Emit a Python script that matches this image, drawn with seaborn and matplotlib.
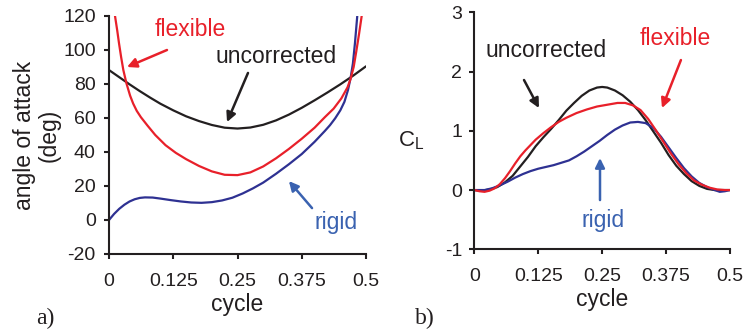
import matplotlib
matplotlib.use("Agg")
import matplotlib.pyplot as plt
import seaborn as sns
import pandas as pd

# ---------------- data ----------------
# panel a) angle of attack (deg) vs cycle
a_unc_x = [0, 0.02, 0.04, 0.06, 0.08, 0.1, 0.125, 0.15, 0.175, 0.2, 0.225, 0.25, 0.275, 0.3, 0.325,
           0.35, 0.375, 0.4, 0.425, 0.45, 0.475, 0.5]
a_unc_y = [88.2, 84.0, 79.8, 75.8, 72.0, 68.4, 64.5, 61.0, 58.2, 55.9, 54.3, 53.8, 54.4, 56.0, 58.6,
           62.0, 66.0, 70.4, 75.0, 79.8, 84.9, 90.4]

a_flex_x = [0.0117, 0.016, 0.0195, 0.0235, 0.0279, 0.034, 0.041, 0.047, 0.054, 0.062, 0.075, 0.09,
            0.11, 0.13, 0.15, 0.175, 0.2, 0.225, 0.25, 0.275, 0.3, 0.325, 0.35, 0.375, 0.4, 0.42,
            0.437, 0.452, 0.464, 0.47, 0.476, 0.481, 0.4865, 0.4916]
a_flex_y = [120, 111.5, 103.9, 96, 88.2, 80.3, 73.2, 68.5, 64.2, 60.5, 55.5, 50, 44, 39.5,
            35.8, 31.8, 28.6, 26.6, 26.4, 28, 31.5, 36.3, 41.8, 47.8, 54.3, 60.5,
            65.5, 71.5, 78, 83, 90, 99, 109.5, 120]

a_rig_x = [0, 0.01, 0.02, 0.03, 0.04, 0.05, 0.06, 0.07, 0.085, 0.1, 0.12, 0.14, 0.16, 0.18, 0.2,
           0.22, 0.24, 0.26, 0.28, 0.3, 0.325, 0.35, 0.375, 0.4, 0.42, 0.43, 0.44, 0.45, 0.458,
           0.465, 0.47, 0.4745, 0.4785, 0.483]
a_rig_y = [0, 3.6, 6.6, 9.0, 10.9, 12.2, 13.0, 13.3, 13.2, 12.6, 11.7, 10.9, 10.3, 10.1, 10.5,
           11.5, 13.1, 15.6, 18.6, 22.0, 27.2, 32.8, 38.8, 46.0, 52.4, 55.8, 59.8, 64.5, 69.5,
           76.5, 83.5, 92, 104, 120]

# panel b) lift coefficient vs cycle
b_unc_x = [0, 0.015, 0.03, 0.045, 0.06, 0.075, 0.09, 0.105, 0.12, 0.135, 0.15, 0.165, 0.18, 0.195,
           0.21, 0.225, 0.24, 0.25, 0.26, 0.275, 0.29, 0.305, 0.32, 0.335, 0.35, 0.365, 0.38,
           0.395, 0.41, 0.425, 0.44, 0.455, 0.47, 0.485, 0.5]
b_unc_y = [0, -0.01, 0.01, 0.05, 0.13, 0.24, 0.40, 0.56, 0.74, 0.89, 1.03, 1.18, 1.34, 1.47,
           1.59, 1.68, 1.73, 1.74, 1.73, 1.68, 1.60, 1.49, 1.35, 1.18, 0.99, 0.80, 0.59,
           0.41, 0.27, 0.15, 0.07, 0.02, 0.0, 0.0, 0.0]

b_flex_x = [0, 0.01, 0.02, 0.03, 0.04, 0.05, 0.06, 0.07, 0.08, 0.09, 0.1, 0.11, 0.12, 0.135, 0.15,
            0.165, 0.18, 0.2, 0.22, 0.24, 0.26, 0.28, 0.295, 0.31, 0.325, 0.34, 0.355, 0.37, 0.385,
            0.4, 0.415, 0.43, 0.445, 0.46, 0.475, 0.49, 0.5]
b_flex_y = [0, -0.02, -0.03, -0.01, 0.03, 0.10, 0.20, 0.32, 0.45, 0.57, 0.67, 0.76, 0.85, 0.96, 1.06,
            1.15, 1.22, 1.30, 1.36, 1.41, 1.44, 1.47, 1.47, 1.43, 1.35, 1.20, 1.01, 0.81, 0.61,
            0.43, 0.28, 0.16, 0.09, 0.04, 0.01, 0.0, 0.0]

b_rig_x = [0, 0.02, 0.035, 0.05, 0.065, 0.08, 0.095, 0.11, 0.125, 0.14, 0.155, 0.17, 0.185, 0.2,
           0.215, 0.23, 0.245, 0.26, 0.275, 0.29, 0.305, 0.32, 0.335, 0.35, 0.365, 0.38, 0.395,
           0.41, 0.425, 0.44, 0.455, 0.47, 0.48, 0.49, 0.5]
b_rig_y = [0, 0.0, 0.03, 0.08, 0.14, 0.21, 0.27, 0.32, 0.36, 0.39, 0.42, 0.46, 0.50, 0.57,
           0.65, 0.74, 0.83, 0.93, 1.02, 1.09, 1.14, 1.15, 1.13, 1.05, 0.90, 0.72, 0.54,
           0.37, 0.23, 0.12, 0.05, 0.0, -0.03, -0.02, 0.0]

x_ticks = [0, 0.125, 0.25, 0.375, 0.5]
x_ticklabels = ["0", "0.125", "0.25", "0.375", "0.5"]
a_yticks = [-20, 0, 20, 40, 60, 80, 100, 120]
b_yticks = [-1, 0, 1, 2, 3]

# ---------------- style ----------------
sns.set_theme(style="ticks")
plt.rcParams['font.family'] = ['Liberation Sans', 'DejaVu Sans']
BLACK = "#231F20"
RED = "#E8202A"
BLUE = "#2E3192"
BLUE_TXT = "#3A62B0"
plt.rcParams.update({
    "axes.unicode_minus": False,
    "axes.edgecolor": BLACK, "axes.linewidth": 1.5,
    "xtick.color": BLACK, "ytick.color": BLACK,
    "xtick.major.width": 1.5, "ytick.major.width": 1.5,
    "xtick.major.size": 3.6, "ytick.major.size": 3.6,
    "xtick.labelsize": 14, "ytick.labelsize": 14,
    "text.color": BLACK, "axes.labelcolor": BLACK,
    "lines.solid_capstyle": "round", "lines.solid_joinstyle": "round",
})

W, H = 753, 333
fig = plt.figure(figsize=(W / 100, H / 100), dpi=100)
axA = fig.add_axes([109 / W, 1 - 254 / H, 257 / W, 238 / H])
axB = fig.add_axes([474.3 / W, 1 - 249.3 / H, 255.7 / W, 237 / H])

LW = 1.6


def draw(ax, x, y, color):
    df = pd.DataFrame({"x": x, "y": y})
    sns.lineplot(data=df, x="x", y="y", ax=ax, color=color, lw=LW, estimator=None)


draw(axA, a_unc_x, a_unc_y, BLACK)
draw(axA, a_rig_x, a_rig_y, BLUE)
draw(axA, a_flex_x, a_flex_y, RED)
draw(axB, b_unc_x, b_unc_y, BLACK)
draw(axB, b_rig_x, b_rig_y, BLUE)
draw(axB, b_flex_x, b_flex_y, RED)

for ax in (axA, axB):
    sns.despine(ax=ax)
    ax.set_xlim(0, 0.5)
    ax.set_xticks(x_ticks)
    ax.set_xticklabels(x_ticklabels)
    ax.tick_params(axis="x", pad=10)
    ax.set_xlabel("cycle", fontsize=16.5, labelpad=2)

axA.set_ylim(-20, 120)
axA.set_yticks(a_yticks)
axA.tick_params(axis="y", pad=6)
axA.set_ylabel("angle of attack\n(deg)", fontsize=16.5, labelpad=2, linespacing=1.05)

axB.set_ylim(-1, 3)
axB.set_yticks(b_yticks)
axB.tick_params(axis="y", pad=5)
axB.set_ylabel("")
axB.text(-0.30, 0.457, r"C$_{\mathregular{L}}$", transform=axB.transAxes, fontsize=16,
         ha="left", va="center")

TXT = 16.5
arrow = lambda c: dict(arrowstyle="-|>", color=c, lw=1.8, mutation_scale=14, shrinkA=0, shrinkB=0)

# panel a annotations
axA.text(0.1576, 111.8, "flexible", color=RED, fontsize=TXT, ha="center", va="center")
axA.annotate("", xy=(0.035, 90), xytext=(0.1128, 100), arrowprops=arrow(RED))
axA.text(0.325, 95.9, "uncorrected", color=BLACK, fontsize=TXT, ha="center", va="center")
axA.annotate("", xy=(0.2296, 57.6), xytext=(0.2704, 86.5), arrowprops=arrow(BLACK))
axA.text(0.4416, -1.2, "rigid", color=BLUE_TXT, fontsize=TXT, ha="center", va="center")
axA.annotate("", xy=(0.350, 22.9), xytext=(0.395, 7), arrowprops=arrow(BLUE_TXT))

# panel b annotations
axB.text(0.140, 2.35, "uncorrected", color=BLACK, fontsize=TXT, ha="center", va="center")
axB.annotate("", xy=(0.1265, 1.384), xytext=(0.0972, 1.857), arrowprops=arrow(BLACK))
axB.text(0.392, 2.55, "flexible", color=RED, fontsize=TXT, ha="center", va="center")
axB.annotate("", xy=(0.367, 1.384), xytext=(0.404, 2.194), arrowprops=arrow(RED))
axB.text(0.2516, -0.506, "rigid", color=BLUE_TXT, fontsize=TXT, ha="center", va="center")
axB.annotate("", xy=(0.2458, 0.54), xytext=(0.2458, -0.169), arrowprops=arrow(BLUE_TXT))

# panel letters
fig.text(45 / W, 1 - 318 / H, "a)", fontsize=17, family="Liberation Serif", ha="center", va="center")
fig.text(425 / W, 1 - 318 / H, "b)", fontsize=17, family="Liberation Serif", ha="center", va="center")

fig.savefig("out.png", dpi=100)
